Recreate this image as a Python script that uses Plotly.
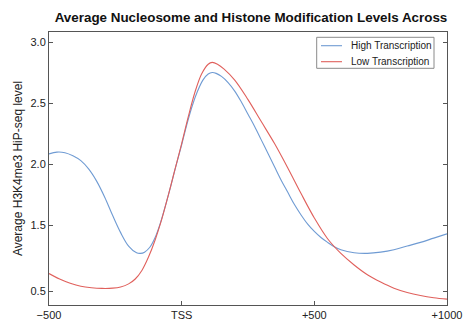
import plotly.graph_objects as go

# Position relative to TSS (bp)
high_x = [-500, -470, -440, -410, -380, -350, -320, -290, -260, -230, -200, -170, -155, -140,
          -120, -100, -80, -60, -40, -20, 0, 20, 40, 60, 80, 100, 115, 130, 150, 175, 200,
          225, 250, 275, 300, 325, 350, 375, 400, 425, 450, 475, 500, 525, 550, 575, 600,
          650, 700, 750, 800, 850, 900, 950, 1000]
high_y = [2.085, 2.10, 2.095, 2.07, 2.03, 1.96, 1.86, 1.73, 1.58, 1.44, 1.33, 1.275, 1.27, 1.28,
          1.32, 1.40, 1.52, 1.67, 1.83, 2.00, 2.16, 2.33, 2.48, 2.60, 2.69, 2.74, 2.752, 2.745,
          2.72, 2.67, 2.60, 2.51, 2.41, 2.31, 2.20, 2.09, 1.98, 1.87, 1.77, 1.67, 1.585, 1.51,
          1.45, 1.40, 1.36, 1.325, 1.30, 1.275, 1.27, 1.28, 1.30, 1.33, 1.36, 1.395, 1.43]

low_x = [-500, -460, -420, -380, -340, -300, -260, -230, -200, -175, -150, -125, -100, -75,
         -50, -25, 0, 25, 50, 75, 100, 115, 135, 160, 200, 250, 300, 350, 400, 450, 500,
         550, 600, 650, 700, 750, 800, 850, 900, 950, 1000]
low_y = [1.105, 1.06, 1.025, 1.0, 0.988, 0.983, 0.985, 0.995, 1.02, 1.06, 1.13, 1.24, 1.38, 1.55,
         1.75, 1.96, 2.17, 2.39, 2.59, 2.74, 2.82, 2.835, 2.82, 2.78, 2.69, 2.53, 2.35, 2.17,
         1.97, 1.76, 1.56, 1.39, 1.27, 1.175, 1.095, 1.035, 0.985, 0.95, 0.925, 0.907, 0.895]

series_names = ["High Transcription", "Low Transcription"]

x_tickvals = [-500, 0, 500, 1000]
x_ticktext = ["\u2212500", "TSS", "+500", "+1000"]
y_tickvals = [0.96, 1.5, 2.0, 2.5, 3.0]
y_ticktext = ["0.5", "1.5", "2.0", "2.5", "3.0"]

BLUE = "#6f9bd3"
RED = "#e0605c"
COLORS = [BLUE, RED]
FONT = "Liberation Sans, Arial, Helvetica, sans-serif"

W, H = 464, 322
ML, MR, MT, MB = 49, 17, 32, 17
PW, PH = W - ML - MR, H - MT - MB


def fx(px):
    return (px - ML) / PW


def fy(py):
    return (H - MB - py) / PH


fig = go.Figure()
for name, xs, ys, col in zip(series_names, [high_x, low_x], [high_y, low_y], COLORS):
    fig.add_trace(go.Scatter(x=xs, y=ys, mode="lines", name=name, showlegend=False,
                             line=dict(color=col, width=1.1, shape="spline", smoothing=1.0)))

# Compact legend box (drawn in paper space)
shapes = [dict(type="rect", xref="paper", yref="paper",
               x0=fx(316.7), x1=fx(434), y0=fy(68.3), y1=fy(37.3),
               line=dict(color="#8a8a8a", width=1), fillcolor="white", layer="above")]
annotations = []
row_y = [45.7, 61.7]
for name, col, ry in zip(series_names, COLORS, row_y):
    shapes.append(dict(type="line", xref="paper", yref="paper",
                       x0=fx(321), x1=fx(342), y0=fy(ry), y1=fy(ry),
                       line=dict(color=col, width=1.1), layer="above"))
    annotations.append(dict(xref="paper", yref="paper", x=fx(349), y=fy(ry),
                            xanchor="left", yanchor="middle", showarrow=False,
                            text=name, font=dict(family=FONT, size=10, color="#222")))

fig.update_layout(
    width=W, height=H,
    margin=dict(l=ML, r=MR, t=MT, b=MB),
    paper_bgcolor="white", plot_bgcolor="white",
    font=dict(family=FONT, size=11, color="#222"),
    title=dict(text="<b>Average Nucleosome and Histone Modification Levels Across</b>",
               x=251 / W, xanchor="center", y=1 - 17 / H, yanchor="middle",
               font=dict(family=FONT, size=13.4, color="#111")),
    showlegend=False,
    shapes=shapes,
    annotations=annotations,
)
fig.update_xaxes(range=[-500, 1000], tickvals=x_tickvals, ticktext=x_ticktext,
                 automargin=False,
                 showgrid=False, zeroline=False, showline=True, mirror=True,
                 linecolor="#555", linewidth=1, ticks="inside", ticklen=4, tickcolor="#555")
fig.update_yaxes(range=[0.847, 3.084], tickvals=y_tickvals, ticktext=y_ticktext,
                 automargin=False,
                 showgrid=False, zeroline=False, showline=True, mirror="ticks",
                 linecolor="#555", linewidth=1, ticks="inside", ticklen=4, tickcolor="#555",
                 title=dict(text="Average H3K4me3 HiP-seq level", standoff=5,
                            font=dict(family=FONT, size=12, color="#222")))

fig.write_html("out.html")
